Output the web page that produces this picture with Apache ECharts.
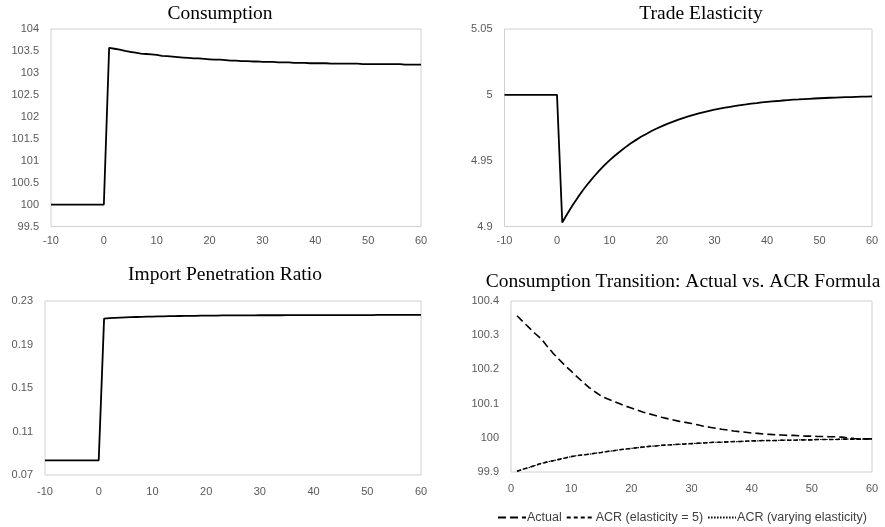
<!DOCTYPE html>
<html>
<head>
<meta charset="utf-8">
<script src="https://cdn.jsdelivr.net/npm/echarts@6/dist/echarts.min.js"></script>
<style>
  html, body { margin: 0; padding: 0; background: #fff; }
  #chart { width: 885px; height: 527px; }
</style>
</head>
<body>
<div id="chart"></div>
<script>
// Periods relative to the trade shock (period 0)
const periods = [-10, -9, -8, -7, -6, -5, -4, -3, -2, -1, 0,
  1, 2, 3, 4, 5, 6, 7, 8, 9, 10, 11, 12, 13, 14, 15, 16, 17, 18, 19, 20,
  21, 22, 23, 24, 25, 26, 27, 28, 29, 30, 31, 32, 33, 34, 35, 36, 37, 38, 39, 40,
  41, 42, 43, 44, 45, 46, 47, 48, 49, 50, 51, 52, 53, 54, 55, 56, 57, 58, 59, 60];

const transitionPeriods = [1, 2, 3, 4, 5, 6, 7, 8, 9, 10, 11, 12, 13, 14, 15, 16, 17, 18, 19, 20,
  21, 22, 23, 24, 25, 26, 27, 28, 29, 30, 31, 32, 33, 34, 35, 36, 37, 38, 39, 40,
  41, 42, 43, 44, 45, 46, 47, 48, 49, 50, 51, 52, 53, 54, 55, 56, 57, 58, 59, 60];

// Consumption index (pre-shock = 100)
const consumption = [100, 100, 100, 100, 100, 100, 100, 100, 100, 100, 100,
  103.57, 103.55, 103.53, 103.50, 103.48, 103.46, 103.44, 103.43, 103.42, 103.41,
  103.39, 103.38, 103.37, 103.36, 103.35, 103.34, 103.33, 103.33, 103.32, 103.31,
  103.30, 103.30, 103.29, 103.28, 103.28, 103.27, 103.27, 103.26, 103.26, 103.25,
  103.25, 103.25, 103.24, 103.24, 103.24, 103.23, 103.23, 103.23, 103.22, 103.22,
  103.22, 103.22, 103.21, 103.21, 103.21, 103.21, 103.21, 103.21, 103.20, 103.20,
  103.20, 103.20, 103.20, 103.20, 103.20, 103.20, 103.19, 103.19, 103.19, 103.19];

// Trade elasticity
const tradeElasticity = [5, 5, 5, 5, 5, 5, 5, 5, 5, 5, 5,
  4.9030, 4.9099, 4.9164, 4.9223, 4.9279, 4.9330, 4.9378, 4.9422, 4.9464, 4.9502,
  4.9537, 4.9570, 4.9601, 4.9630, 4.9656, 4.9681, 4.9703, 4.9725, 4.9744, 4.9762,
  4.9779, 4.9795, 4.9810, 4.9823, 4.9836, 4.9848, 4.9859, 4.9869, 4.9878, 4.9887,
  4.9895, 4.9902, 4.9909, 4.9916, 4.9922, 4.9927, 4.9933, 4.9937, 4.9942, 4.9946,
  4.9950, 4.9953, 4.9957, 4.9960, 4.9963, 4.9965, 4.9968, 4.9970, 4.9972, 4.9974,
  4.9976, 4.9978, 4.9979, 4.9981, 4.9982, 4.9983, 4.9985, 4.9986, 4.9987, 4.9988];

// Import penetration ratio
const importRatio = [0.0835, 0.0835, 0.0835, 0.0835, 0.0835, 0.0835, 0.0835, 0.0835, 0.0835, 0.0835, 0.0835,
  0.2138, 0.2142, 0.2145, 0.2147, 0.2149, 0.2151, 0.2153, 0.2154, 0.2156, 0.2157,
  0.2158, 0.2159, 0.2160, 0.2161, 0.2162, 0.2163, 0.2163, 0.2164, 0.2165, 0.2165,
  0.2166, 0.2166, 0.2167, 0.2167, 0.2167, 0.2168, 0.2168, 0.2168, 0.2168, 0.2169,
  0.2169, 0.2169, 0.2169, 0.2169, 0.2170, 0.2170, 0.2170, 0.2170, 0.2170, 0.2170,
  0.2170, 0.2170, 0.2171, 0.2171, 0.2171, 0.2171, 0.2171, 0.2171, 0.2171, 0.2171,
  0.2171, 0.2172, 0.2172, 0.2172, 0.2172, 0.2172, 0.2172, 0.2172, 0.2172, 0.2172];

// Consumption transition: actual path vs. ACR formula
const actualTransition = [100.357, 100.339, 100.322, 100.305, 100.290, 100.268, 100.247, 100.229, 100.211, 100.195,
  100.178, 100.162, 100.147, 100.134, 100.122, 100.114, 100.107, 100.100, 100.093, 100.087,
  100.081, 100.075, 100.070, 100.065, 100.060, 100.056, 100.052, 100.048, 100.045, 100.042,
  100.038, 100.034, 100.031, 100.028, 100.025, 100.023, 100.020, 100.018, 100.016, 100.014,
  100.013, 100.011, 100.010, 100.009, 100.008, 100.007, 100.007, 100.006, 100.005, 100.005,
  100.004, 100.004, 100.003, 100.003, 100.002, 100.000, 99.998, 99.997, 99.997, 99.997];

const acrFixedElasticity = [99.902, 99.908, 99.913, 99.919, 99.925, 99.929, 99.933, 99.937, 99.941, 99.945,
  99.948, 99.950, 99.952, 99.955, 99.957, 99.960, 99.962, 99.965, 99.967, 99.969,
  99.971, 99.973, 99.975, 99.976, 99.978, 99.979, 99.980, 99.981, 99.982, 99.983,
  99.984, 99.985, 99.986, 99.987, 99.987, 99.988, 99.989, 99.989, 99.990, 99.991,
  99.991, 99.992, 99.992, 99.992, 99.993, 99.993, 99.993, 99.994, 99.994, 99.994,
  99.995, 99.995, 99.995, 99.995, 99.996, 99.996, 99.996, 99.996, 99.997, 99.997];

const acrVaryingElasticity = [99.902, 99.908, 99.913, 99.919, 99.925, 99.929, 99.933, 99.937, 99.941, 99.945,
  99.948, 99.950, 99.952, 99.955, 99.957, 99.960, 99.962, 99.965, 99.967, 99.969,
  99.971, 99.973, 99.975, 99.976, 99.978, 99.979, 99.980, 99.981, 99.982, 99.983,
  99.984, 99.985, 99.986, 99.987, 99.987, 99.988, 99.989, 99.989, 99.990, 99.991,
  99.991, 99.992, 99.992, 99.992, 99.993, 99.993, 99.993, 99.994, 99.994, 99.994,
  99.995, 99.995, 99.995, 99.995, 99.996, 99.996, 99.996, 99.996, 99.997, 99.997];

const panelTitles = ['Consumption', 'Trade Elasticity', 'Import Penetration Ratio',
  'Consumption Transition: Actual vs. ACR Formula'];
const legendNames = ['Actual', 'ACR (elasticity = 5)', 'ACR (varying elasticity)'];

const pairs = (xs, ys) => xs.map((x, i) => [x, ys[i]]);

const labelColor = '#595959';
const labelFont = { color: labelColor, fontFamily: 'Liberation Sans', fontSize: 11 };
const frameColor = '#d0d0d0';

function grid(left, top, width, height) {
  return { left, top, width, height, show: true, borderColor: frameColor, borderWidth: 1,
           backgroundColor: '#fff', containLabel: false };
}
function xAxis(gridIndex, min, margin) {
  return {
    type: 'value', gridIndex, min, max: 60, interval: 10,
    axisLine: { show: false }, axisTick: { show: false }, splitLine: { show: false },
    axisLabel: Object.assign({ margin }, labelFont)
  };
}
function yAxis(gridIndex, min, max, interval) {
  return {
    type: 'value', gridIndex, min, max, interval,
    axisLine: { show: false }, axisTick: { show: false }, splitLine: { show: false },
    axisLabel: Object.assign({ margin: 12 }, labelFont)
  };
}
function titleText(text, x, y) {
  return {
    type: 'text', x, y, silent: true,
    style: { text, fill: '#000', font: '19.5px "Liberation Serif"', align: 'center', verticalAlign: 'middle' }
  };
}

const solid = { color: '#000', width: 1.8, type: 'solid' };

const option = {
  animation: false,
  backgroundColor: '#fff',
  graphic: [
    titleText(panelTitles[0], 220, 13.5),
    titleText(panelTitles[1], 701, 13.5),
    titleText(panelTitles[2], 225, 275),
    titleText(panelTitles[3], 683, 282)
  ],
  grid: [
    grid(51, 29, 370, 197.5),
    grid(504.5, 29, 367.5, 197.5),
    grid(45, 301, 376, 174),
    grid(511, 301, 361, 171)
  ],
  xAxis: [
    xAxis(0, -10, 9),
    xAxis(1, -10, 9),
    xAxis(2, -10, 11),
    xAxis(3, 0, 11)
  ],
  yAxis: [
    yAxis(0, 99.5, 104, 0.5),
    yAxis(1, 4.9, 5.05, 0.05),
    yAxis(2, 0.07, 0.23, 0.04),
    yAxis(3, 99.9, 100.4, 0.1)
  ],
  legend: {
    data: legendNames,
    left: 492, top: 506,
    itemWidth: 28, itemHeight: 10, itemGap: 4,
    itemStyle: { color: 'rgba(0,0,0,0)', borderWidth: 0, opacity: 0 },
    textStyle: { color: '#404040', fontFamily: 'Liberation Sans', fontSize: 12.5, padding: [0, 0, 0, -4] }
  },
  series: [
    { type: 'line', name: panelTitles[0], xAxisIndex: 0, yAxisIndex: 0, data: pairs(periods, consumption),
      symbol: 'none', lineStyle: solid },
    { type: 'line', name: panelTitles[1], xAxisIndex: 1, yAxisIndex: 1, data: pairs(periods, tradeElasticity),
      symbol: 'none', lineStyle: solid },
    { type: 'line', name: panelTitles[2], xAxisIndex: 2, yAxisIndex: 2, data: pairs(periods, importRatio),
      symbol: 'none', lineStyle: solid },
    { type: 'line', name: legendNames[0], xAxisIndex: 3, yAxisIndex: 3, data: pairs(transitionPeriods, actualTransition),
      symbol: 'none', itemStyle: { color: '#000' },
      lineStyle: { color: '#000', width: 1.6, type: [8, 4] } },
    { type: 'line', name: legendNames[1], xAxisIndex: 3, yAxisIndex: 3, data: pairs(transitionPeriods, acrFixedElasticity),
      symbol: 'none', itemStyle: { color: '#000' },
      lineStyle: { color: '#000', width: 1.6, type: [4, 3] } },
    { type: 'line', name: legendNames[2], xAxisIndex: 3, yAxisIndex: 3, data: pairs(transitionPeriods, acrVaryingElasticity),
      symbol: 'none', itemStyle: { color: '#000' },
      lineStyle: { color: '#000', width: 1.2, type: [1.5, 1.5] } }
  ]
};

const chart = echarts.init(document.getElementById('chart'), null, { renderer: 'canvas' });
chart.setOption(option);
</script>
</body>
</html>
